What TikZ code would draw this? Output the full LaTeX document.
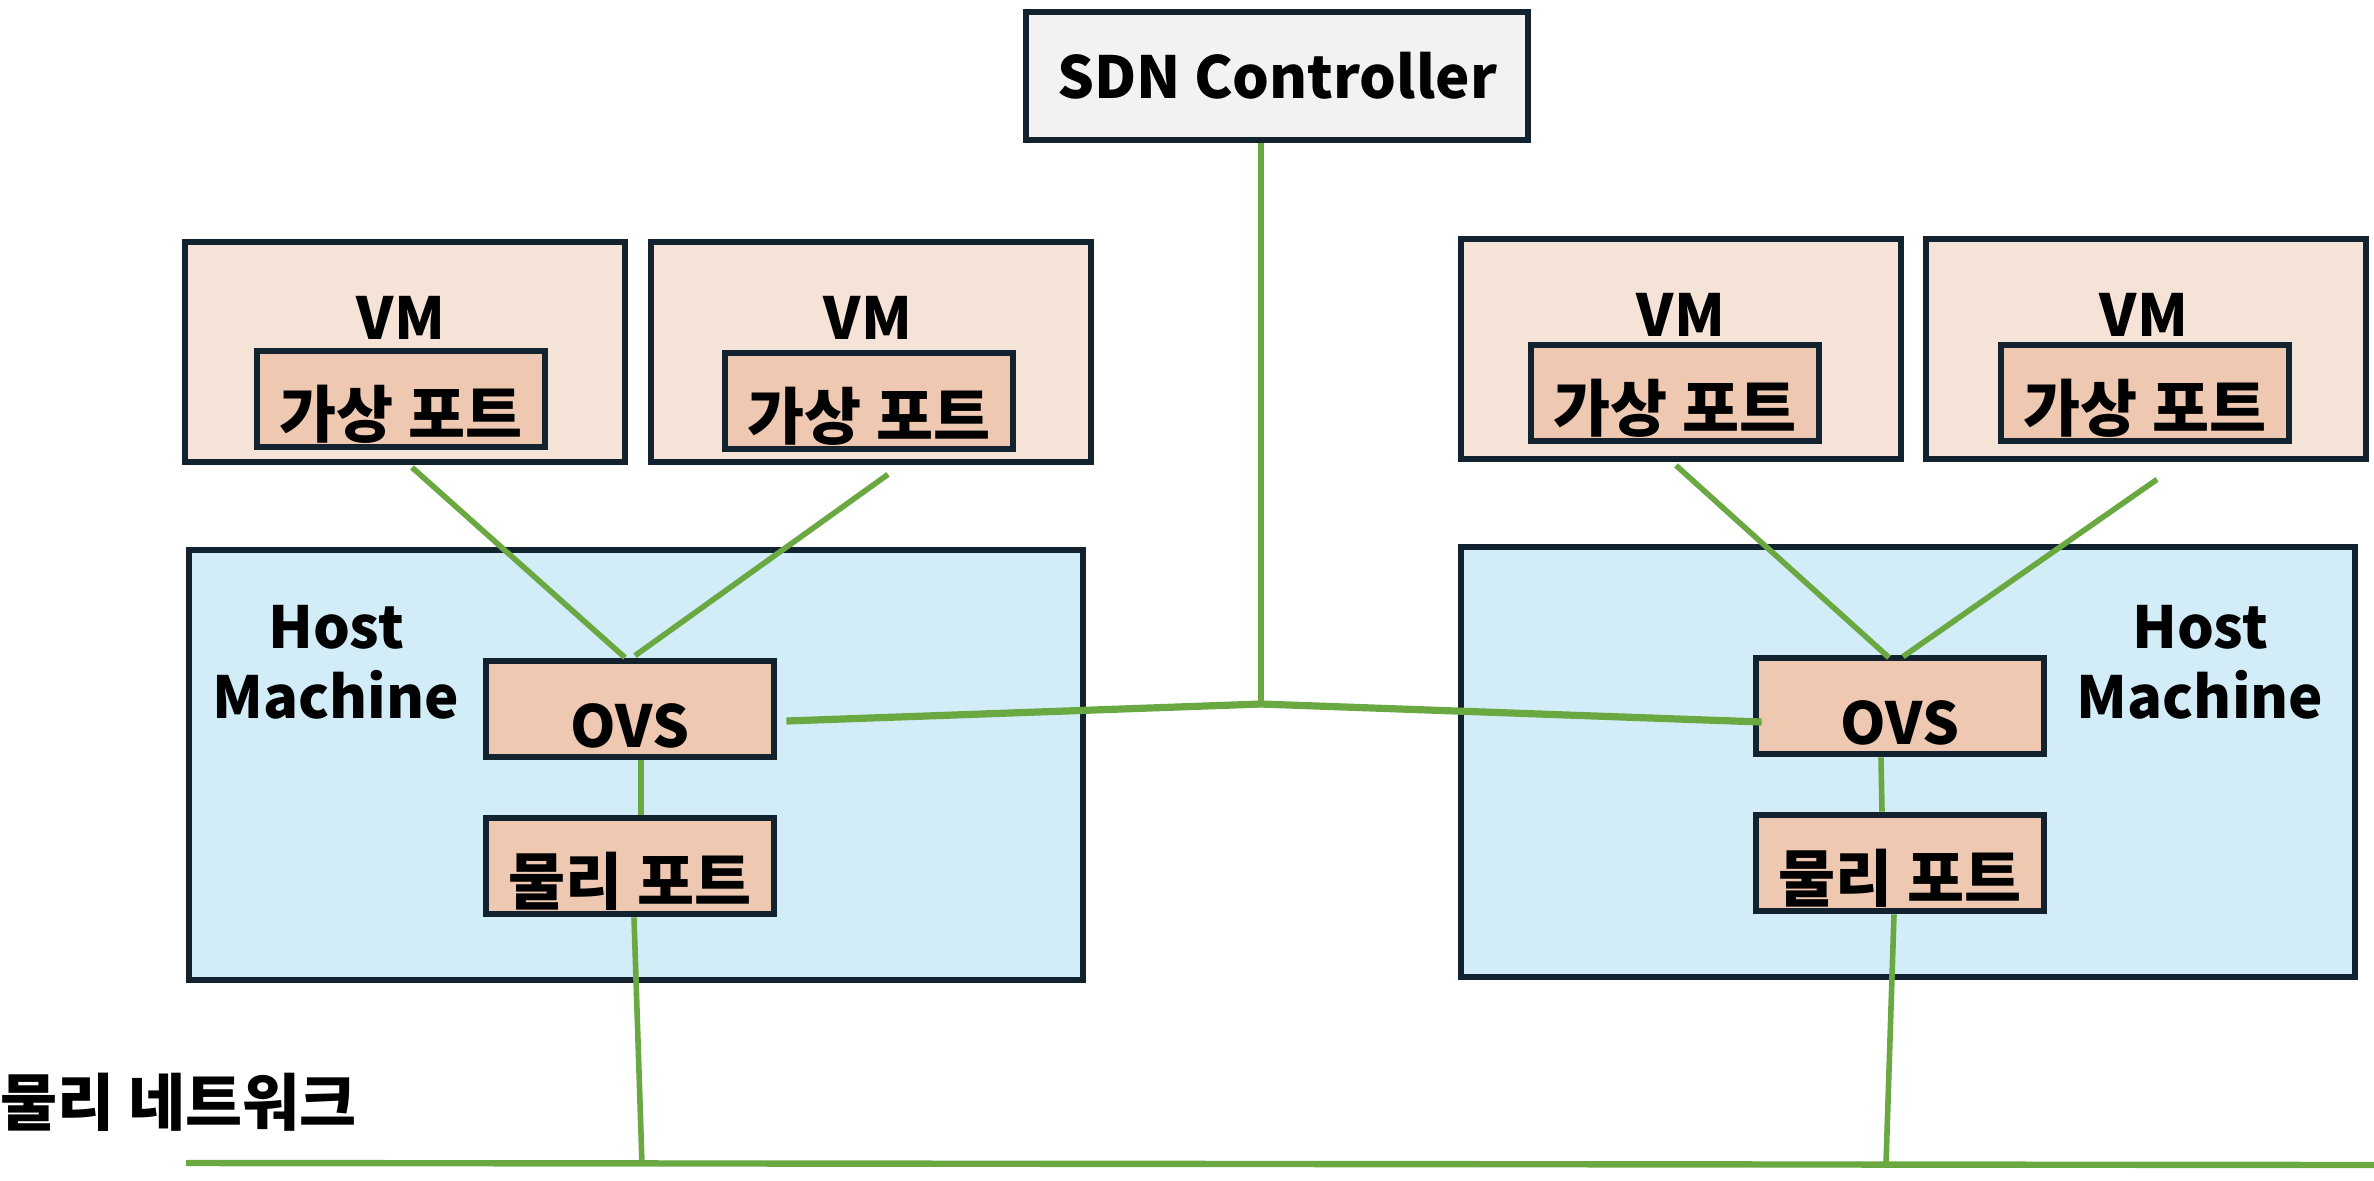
\documentclass[tikz,border=0pt]{standalone}
\usepackage{fontspec}
\setmainfont{Noto Sans CJK KR}
\usepackage{tikz}
\usetikzlibrary{calc}
\definecolor{edge}{HTML}{12222F}
\definecolor{vmfill}{HTML}{F5E3D8}
\definecolor{portfill}{HTML}{EEC8B0}
\definecolor{hostfill}{HTML}{D2ECF8}
\definecolor{ctlfill}{HTML}{F2F2F2}
\definecolor{link}{HTML}{6AA842}

\begin{document}
\begin{tikzpicture}[x=0.5pt, y=-0.5pt, font=\fontsize{29}{35}\selectfont\bfseries,
   box/.style={draw=edge, line width=3.4pt, inner sep=0pt},
   vmbox/.style={box, fill=vmfill, minimum width=220pt, minimum height=110pt},
   portbox/.style={box, fill=portfill, minimum width=144pt, minimum height=48pt,
      text height=38pt, text depth=0pt},
   krtext/.style={font=\fontsize{31}{37}\selectfont\bfseries},
   hostbox/.style={box, fill=hostfill, minimum width=447pt, minimum height=215pt},
   wire/.style={draw=link, line width=2.8pt}]
   \useasboundingbox (0,0) rectangle (2374,1180);
   \node[box, fill=ctlfill, minimum width=251pt, minimum height=64pt] (sdn) at (1277,76) {SDN Controller};
   \node[hostbox] (host1) at (636,765) {};
   \node[hostbox] (host2) at (1908,762) {};
   \node[align=center] (hlab1) at (336,662) {Host\\Machine};
   \node[align=center] (hlab2) at (2200,662) {Host\\Machine};
   \node[vmbox] (vm1) at (405,352) {};
   \node[vmbox] (vm2) at (871,352) {};
   \node[vmbox] (vm3) at (1681,349) {};
   \node[vmbox] (vm4) at (2146,349) {};
   \node (vmlab1) at (401,318) {VM};
   \node (vmlab2) at (868,318) {VM};
   \node (vmlab3) at (1681,315) {VM};
   \node (vmlab4) at (2144,315) {VM};
   \node[portbox, krtext] (vp1) at (401,399) {가상 포트};
   \node[portbox, krtext] (vp2) at (869,401) {가상 포트};
   \node[portbox, krtext] (vp3) at (1675,393) {가상 포트};
   \node[portbox, krtext] (vp4) at (2145,393) {가상 포트};
   \node[portbox] (ovs1) at (630,709) {OVS};
   \node[portbox] (ovs2) at (1900,706) {OVS};
   \node[portbox, krtext] (pp1) at (630,866) {물리 포트};
   \node[portbox, krtext] (pp2) at (1900,863) {물리 포트};
   \node[krtext, anchor=west, inner sep=0pt] (netlab) at (0,1102) {물리 네트워크};
   % links
   \coordinate (jn) at (1261,704);
   \coordinate (netL) at (186,1163);
   \coordinate (netR) at (2374,1165);
   \coordinate (n1) at (642,1164);
   \coordinate (n2) at (1886,1164);
   \draw[wire] (jn |- sdn.south) -- (jn);
   \draw[wire, line width=3.6pt] ($(ovs1.east)+(9,12)$) -- (jn) -- ($(ovs2.west)+(9,16)$);
   \draw[wire] ($(vm1.south)+(7,2)$) -- ($(ovs1.north)+(-5,0)$);
   \draw[wire] ($(vm2.south)+(17,9)$) -- ($(ovs1.north)+(5,-2)$);
   \draw[wire] ($(vm3.south)+(-5,3)$) -- ($(ovs2.north)+(-11,3)$);
   \draw[wire] ($(vm4.south)+(11,17)$) -- ($(ovs2.north)+(3,2)$);
   \draw[wire] ($(ovs1.south)+(11,0)$) -- ($(pp1.north)+(11,0)$);
   \draw[wire] ($(ovs2.south)+(-19,0)$) -- ($(pp2.north)+(-18,0)$);
   \draw[wire] ($(pp1.south)+(4,0)$) -- (n1);
   \draw[wire] ($(pp2.south)+(-6,0)$) -- (n2);
   \draw[wire, line width=3.2pt] (netL) -- (netR);
\end{tikzpicture}
\end{document}
